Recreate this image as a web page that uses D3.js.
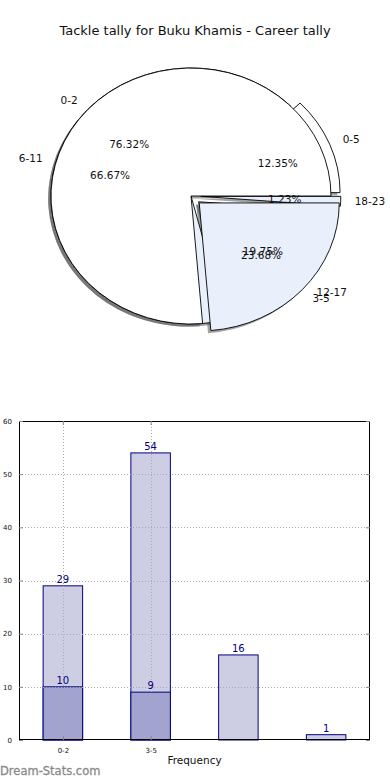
<!DOCTYPE html>
<html><head><meta charset="utf-8">
<script src="https://cdn.jsdelivr.net/npm/d3@7"></script>
<style>body{margin:0;background:#fff} svg{display:block;font-family:"DejaVu Sans",sans-serif}</style>
</head><body><svg id="c" width="390" height="780"></svg>
<script>
const title = "Tackle tally for Buku Khamis - Career tally";
const pieALabels = ["0-2", "3-5"];
const pieAValues = [29, 9];
const pieAExplode = [0, 0.08];
const pieBLabels = ["0-5", "6-11", "12-17", "18-23"];
const pieBValues = [10, 54, 16, 1];
const pieBExplode = [0.07, 0, 0.07, 0.07];
const barTickLabels = ["0-2", "3-5"];
const barLightValues = [29, 54, 16, 1];
const barDarkValues = [10, 9];
const yTicks = [0, 10, 20, 30, 40, 50, 60];
const xLabel = "Frequency";
const watermark = "Dream-Stats.com";

const svg = d3.select("#c");
const white = "#ffffff", lightBlue = "#e9effb";

svg.append("text").attr("x", 195).attr("y", 35).attr("text-anchor", "middle")
  .attr("font-size", 13).attr("fill", "#111").text(title);

// ---------- Pies ----------
const cx = 191, cy = 196, rx = 140, ry = 128;
const arcGen = d3.arc().innerRadius(0).outerRadius(1);
function pieData(values, explode, labels, colors) {
  const total = d3.sum(values);
  return d3.pie().sort(null).startAngle(Math.PI / 2).endAngle(Math.PI / 2 - 2 * Math.PI)(values)
    .map((a, i) => {
      const am = (a.startAngle + a.endAngle) / 2;
      const dx = Math.sin(am), dy = -Math.cos(am);
      return {a, e: explode[i], dx, dy, label: labels[i], color: colors[i],
        pct: (values[i] / total * 100).toFixed(2) + "%"};
    });
}
const A = pieData(pieAValues, pieAExplode, pieALabels, [white, lightBlue]);
const B = pieData(pieBValues, pieBExplode, pieBLabels, [white, lightBlue, white, lightBlue]);

const pieG = svg.append("g");
function wedge(d, shadow) {
  const ox = cx + d.e * d.dx * rx + (shadow ? -2.8 : 0);
  const oy = cy + d.e * d.dy * ry + (shadow ? 2.6 : 0);
  const p = pieG.append("path")
    .attr("transform", `translate(${ox},${oy}) scale(${rx},${ry})`)
    .attr("d", arcGen(d.a));
  if (shadow) p.attr("fill", "#555").attr("fill-opacity", 0.55).attr("stroke", "none");
  else p.attr("fill", d.color).attr("stroke", "#000").attr("stroke-width", 0.9)
        .attr("vector-effect", "non-scaling-stroke").attr("stroke-linejoin", "miter");
}
B.forEach(d => wedge(d, true));
A.forEach(d => wedge(d, true));
B.forEach(d => wedge(d, false));
A.forEach(d => wedge(d, false));

function pieTexts(P) {
  P.forEach(d => {
    const lx = cx + (1.1 + d.e) * d.dx * rx, ly = cy + (1.1 + d.e) * d.dy * ry;
    pieG.append("text").attr("x", lx).attr("y", ly).attr("dy", "0.35em")
      .attr("text-anchor", d.dx > 0 ? "start" : "end").attr("font-size", 10.5)
      .attr("fill", "#111").text(d.label);
    const px = cx + (0.6 + d.e) * d.dx * rx, py = cy + (0.6 + d.e) * d.dy * ry;
    pieG.append("text").attr("x", px).attr("y", py).attr("dy", "0.35em")
      .attr("text-anchor", "middle").attr("font-size", 10.5)
      .attr("fill", "#111").text(d.pct);
  });
}
pieTexts(A);
pieTexts(B);

// ---------- Bars ----------
const L = 19, R = 370, T = 421, Bt = 740;
const x = d3.scaleLinear().domain([-0.5, 3.5]).range([L, R]);
const y = d3.scaleLinear().domain([0, 60]).range([Bt, T]);
const bw = 0.45;
const navy = "#000080";
const bg = svg.append("g");

bg.selectAll("rect.light").data(barLightValues).enter().append("rect")
  .attr("x", (d, i) => x(i - bw / 2)).attr("width", x(bw) - x(0))
  .attr("y", d => y(d)).attr("height", d => y(0) - y(d))
  .attr("fill", "#cdcde4").attr("stroke", navy).attr("stroke-width", 1);
bg.selectAll("rect.dark").data(barDarkValues).enter().append("rect")
  .attr("x", (d, i) => x(i - bw / 2)).attr("width", x(bw) - x(0))
  .attr("y", d => y(d)).attr("height", d => y(0) - y(d))
  .attr("fill", "#a3a3d0").attr("stroke", navy).attr("stroke-width", 1);

// grid
const grid = bg.append("g").attr("stroke", "#aaa").attr("stroke-width", 1)
  .attr("stroke-dasharray", "1,2").attr("fill", "none");
yTicks.slice(1, -1).forEach(t => grid.append("line").attr("x1", L).attr("x2", R)
  .attr("y1", Math.round(y(t)) + 0.5).attr("y2", Math.round(y(t)) + 0.5));
barTickLabels.forEach((t, i) => grid.append("line").attr("x1", Math.round(x(i)) + 0.5)
  .attr("x2", Math.round(x(i)) + 0.5).attr("y1", T).attr("y2", Bt));

// value labels
const vl = bg.append("g").attr("fill", navy).attr("font-size", 10).attr("text-anchor", "middle");
barLightValues.forEach((v, i) => vl.append("text").attr("x", x(i)).attr("y", y(v) - 3).text(v));
barDarkValues.forEach((v, i) => vl.append("text").attr("x", x(i)).attr("y", y(v) - 3).text(v));

// axes frame and ticks
bg.append("rect").attr("x", L + 0.5).attr("y", T + 0.5).attr("width", R - L - 1).attr("height", Bt - T - 1)
  .attr("fill", "none").attr("stroke", "#000").attr("stroke-width", 1);
const yAxisL = d3.axisLeft(y).tickValues(yTicks).tickSizeInner(-4).tickSizeOuter(0).tickPadding(7);
const gy = bg.append("g").attr("transform", `translate(${L},0)`).call(yAxisL);
gy.select(".domain").remove();
gy.selectAll("text").attr("font-size", 7).attr("fill", "#111").attr("font-family", "DejaVu Sans");
gy.selectAll("line").attr("stroke", "#888");
const gyr = bg.append("g").attr("transform", `translate(${R},0)`)
  .call(d3.axisRight(y).tickValues(yTicks).tickSizeInner(-4).tickSizeOuter(0).tickFormat(""));
gyr.select(".domain").remove();
gyr.selectAll("line").attr("stroke", "#888");
const xAxisB = d3.axisBottom(x).tickValues(barTickLabels.map((d, i) => i))
  .tickFormat(i => barTickLabels[i]).tickSizeInner(-4).tickSizeOuter(0).tickPadding(8);
const gx = bg.append("g").attr("transform", `translate(0,${Bt})`).call(xAxisB);
gx.select(".domain").remove();
gx.selectAll("text").attr("font-size", 7).attr("fill", "#111").attr("font-family", "DejaVu Sans");
gx.selectAll("line").attr("stroke", "#888");
const gxt = bg.append("g").attr("transform", `translate(0,${T})`)
  .call(d3.axisTop(x).tickValues(barTickLabels.map((d, i) => i)).tickSizeInner(-4).tickSizeOuter(0).tickFormat(""));
gxt.select(".domain").remove();
gxt.selectAll("line").attr("stroke", "#888");

svg.append("text").attr("x", (L + R) / 2).attr("y", 764).attr("text-anchor", "middle")
  .attr("font-size", 10.5).attr("fill", "#111").text(xLabel);
svg.append("text").attr("x", 0).attr("y", 775).attr("font-size", 11.5)
  .attr("fill", "#8a8a8a").attr("stroke", "#8a8a8a").attr("stroke-width", 0.3).text(watermark);
</script></body></html>
